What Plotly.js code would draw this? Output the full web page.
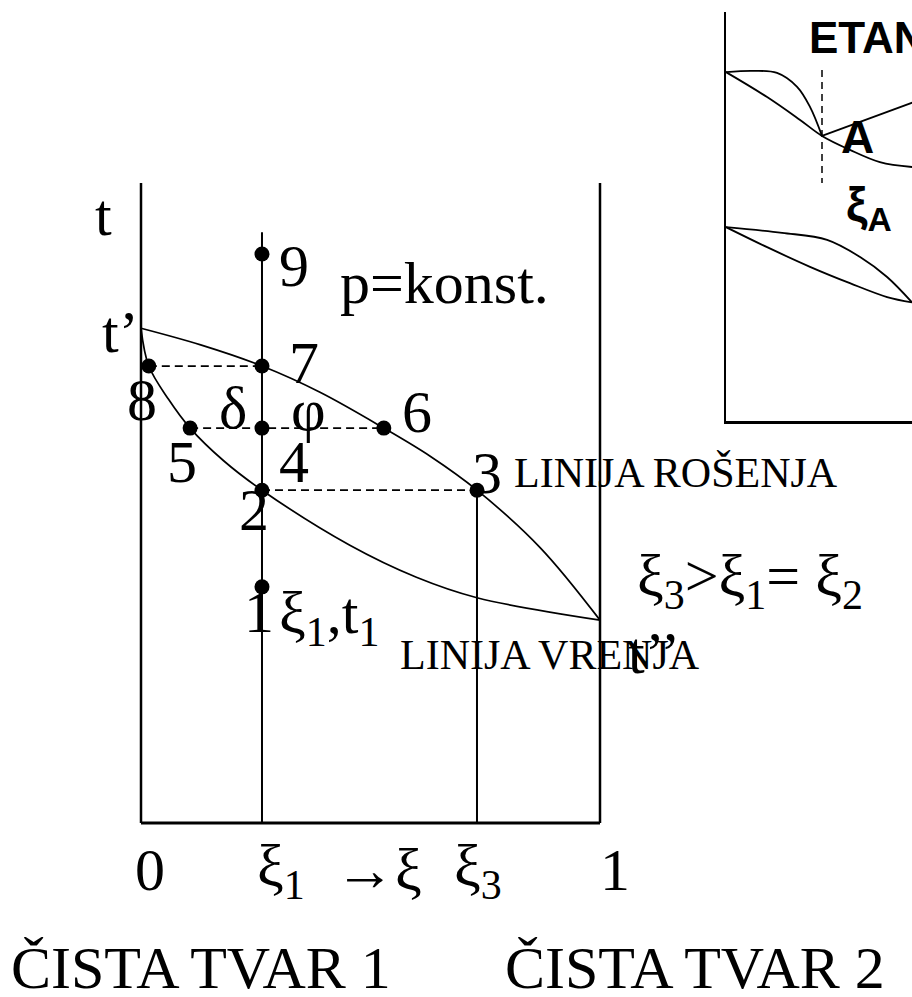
<!DOCTYPE html>
<html>
<head>
<meta charset="utf-8">
<script src="https://cdn.plot.ly/plotly-3.0.1.min.js"></script>
<style>
  html, body { margin: 0; padding: 0; background: #fff; }
  #chart { width: 912px; height: 997px; }
</style>
</head>
<body>
<div id="chart"></div>
<script>
// Compositions (mole fraction of component 2)
const xi1 = 0.2636;
const xi3 = 0.732;

// Dew line (LINIJA ROŠENJA): composition vs temperature
const dewX = [0, 0.13, 0.2636, 0.39, 0.529, 0.63, 0.732, 0.87, 1];
const dewT = [77.3, 74.7, 71.4, 67.3, 61.7, 57.3, 52.0, 43.0, 31.7];

// Boiling line (LINIJA VRENJA)
const boilX = [0, 0.017, 0.06, 0.107, 0.18, 0.2636, 0.455, 0.6, 0.732, 1];
const boilT = [77.3, 71.4, 66.2, 61.7, 56.6, 52.0, 43.4, 38.4, 35.2, 31.7];

// Numbered states 1..9
const stateNames = ['1', '2', '3', '4', '5', '6', '7', '8', '9'];
const stateX = [xi1, xi1, xi3, xi1, 0.107, 0.529, xi1, 0.017, xi1];
const stateT = [36.9, 52.0, 52.0, 61.7, 61.7, 61.7, 71.4, 71.4, 88.9];

// Tie lines (horizontal, dashed): pairs of states
const tiePairs = [[8, 7], [5, 6], [2, 3]];

// Frame of the diagram
const frameTop = 100;
const xi1LineTop = 92.3;

// Inset (ETANOL) curves
const inAupX = [0, 0.09, 0.17, 0.237, 0.28, 0.32];
const inAupT = [85.3, 85.6, 85.1, 81.7, 76.8, 69.7];
const inAlowX = [0, 0.137, 0.247, 0.32, 0.413, 0.513, 0.62, 0.7];
const inAlowT = [85.3, 79.2, 73.6, 69.7, 66.3, 63.3, 62.1, 61.9];
const inArmX = [0.32, 0.7];
const inArmT = [69.7, 79.96];
const inDashX = [0.32, 0.32];
const inDashT = [85.8, 58.2];
const inBupX = [0, 0.187, 0.337, 0.447, 0.537, 0.62];
const inBupT = [47.4, 46.0, 44.3, 40.1, 35.2, 29.0];
const inBlowX = [0, 0.137, 0.28, 0.413, 0.537, 0.62];
const inBlowT = [47.4, 42.5, 37.7, 33.7, 30.3, 29.0];

const W = 912, H = 997;
const px = v => v / W;
const py = v => 1 - v / H;

const black = '#000';
const traces = [];

function line(x, y, opts) {
  opts = opts || {};
  traces.push({
    type: 'scatter', mode: 'lines', x: x, y: y,
    xaxis: opts.xa || 'x', yaxis: opts.ya || 'y',
    line: {
      color: black, width: opts.w || 1.8, dash: opts.dash || 'solid',
      shape: opts.spline ? 'spline' : 'linear', smoothing: opts.spline ? 1 : undefined
    },
    hoverinfo: 'skip', showlegend: false
  });
}

// Frame: two pure-component axes and the base line
line([0, 0], [0, frameTop], { w: 2.5 });
line([1, 1], [0, frameTop], { w: 2.5 });
line([0, 1], [0, 0], { w: 2.8 });

// Vertical composition lines
line([xi1, xi1], [0, xi1LineTop], { w: 2 });
line([xi3, xi3], [0, stateT[2]], { w: 2 });

// Phase boundary curves
line(dewX, dewT, { spline: true, w: 1.7 });
line(boilX, boilT, { spline: true, w: 1.7 });

// Dashed tie lines
tiePairs.forEach(p => {
  const a = p[0] - 1, b = p[1] - 1;
  line([stateX[a], stateX[b]], [stateT[a], stateT[b]], { dash: '8px,5px', w: 1.8 });
});

// State points
traces.push({
  type: 'scatter', mode: 'markers', x: stateX, y: stateT, text: stateNames,
  marker: { color: black, size: 15 }, hoverinfo: 'text', showlegend: false
});

// Inset curves
const ins = { xa: 'x2', ya: 'y2' };
line(inAupX, inAupT, Object.assign({ spline: true, w: 1.8 }, ins));
line(inAlowX, inAlowT, Object.assign({ spline: true, w: 1.8 }, ins));
line(inArmX, inArmT, Object.assign({ w: 1.8 }, ins));
line(inDashX, inDashT, Object.assign({ dash: '7px,5px', w: 1.5 }, ins));
line(inBupX, inBupT, Object.assign({ spline: true, w: 1.8 }, ins));
line(inBlowX, inBlowT, Object.assign({ spline: true, w: 1.8 }, ins));

const serif = 'Liberation Serif, Times New Roman, serif';
const sans = 'Liberation Sans, Arial, sans-serif';

function label(text, left, center, size, family) {
  return {
    text: text, xref: 'paper', yref: 'paper', x: px(left), y: py(center),
    xanchor: 'left', yanchor: 'middle', showarrow: false,
    font: { family: family || serif, size: size || 60, color: black }
  };
}

const annotations = [
  label('t', 93, 215),
  label('t’', 100, 332),
  label('9', 277, 266),
  label('p=konst.', 338, 283),
  label('7', 287, 363),
  label('8', 125, 400),
  label('δ', 217, 408),
  label('φ', 289, 410),
  label('6', 400, 412),
  label('5', 165, 462),
  label('4', 277, 462),
  label('3', 470, 473),
  label('LINIJA ROŠENJA', 512, 473, 42),
  label('2', 237, 510),
  label('1', 242, 612),
  label('ξ<sub>1</sub>,t<sub>1</sub>', 277, 617),
  label('LINIJA VRENJA', 398, 655, 42),
  label('t’’', 626, 653),
  label('ξ<sub>3</sub>&gt;ξ<sub>1</sub>= ξ<sub>2</sub>', 635, 580),
  label('0', 133, 870),
  label('ξ<sub>1</sub>', 255, 870),
  label('→ξ', 333, 870),
  label('ξ<sub>3</sub>', 452, 870),
  label('1', 598, 870),
  label('ČISTA TVAR 1', 9, 968),
  label('ČISTA TVAR 2', 503, 968),
  // inset labels
  label('<b>ETANOL</b>', 807, 38, 44, sans),
  label('<b>A</b>', 839, 137, 46, sans),
  label('<b>ξ<sub>A</sub></b>', 844, 208, 48, sans)
];

const hidden = {
  showgrid: false, zeroline: false, showticklabels: false, showline: false, ticks: ''
};

const layout = {
  width: W, height: H,
  margin: { l: 0, r: 0, t: 0, b: 0, pad: 0 },
  paper_bgcolor: '#fff', plot_bgcolor: 'rgba(0,0,0,0)',
  showlegend: false,
  xaxis: Object.assign({ domain: [0, 1], range: [-0.30719, 1.67974], fixedrange: true }, hidden),
  yaxis: Object.assign({ domain: [0, 1], range: [-27.1875, 128.59375], fixedrange: true }, hidden),
  xaxis2: Object.assign({}, hidden, {
    domain: [726 / W, 1], range: [0, 0.62], anchor: 'y2',
    showline: true, linecolor: black, linewidth: 2.5, fixedrange: true
  }),
  yaxis2: Object.assign({}, hidden, {
    domain: [(H - 421) / H, (H - 12) / H], range: [0, 100], anchor: 'x2',
    showline: true, linecolor: black, linewidth: 2.5, fixedrange: true
  }),
  annotations: annotations
};

Plotly.newPlot('chart', traces, layout, { staticPlot: true, displayModeBar: false });
</script>
</body>
</html>
